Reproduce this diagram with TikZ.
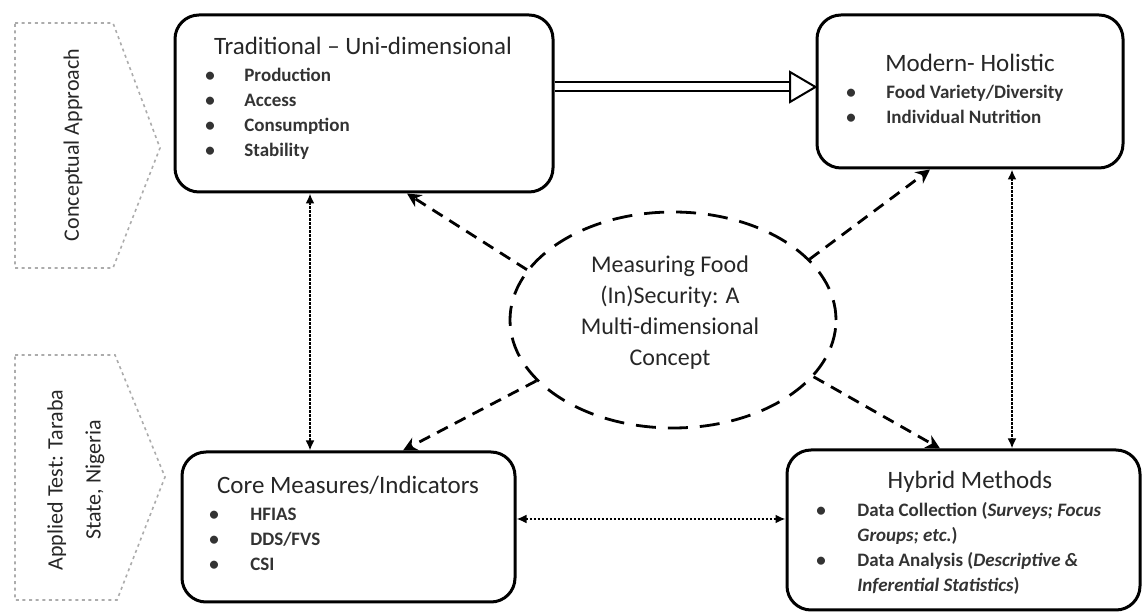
\documentclass[tikz,border=0pt]{standalone}
\usepackage{fontspec}
\setmainfont{Carlito}
\usetikzlibrary{shapes.geometric,arrows.meta,calc}
\tikzset{
  box/.style={draw, line width=1.5pt, rounded corners=12pt, inner sep=0pt},
  sidebox/.style={draw=gray!65, line width=0.8pt, dash pattern=on 1.5pt off 1.8pt},
  sidetext/.style={rotate=90, align=center, font=\fontsize{11}{19}\selectfont, text=black!85},
  titletext/.style={anchor=base, font=\fontsize{12.5}{14}\selectfont, text=black!85, inner sep=0pt},
  listtext/.style={anchor=base west, font=\fontsize{9.5}{12.5}\selectfont\bfseries, text=black!80, inner sep=0pt},
  dotarrow/.style={line width=1.1pt, dash pattern=on 1.1pt off 0.9pt, {Latex[length=5pt,width=4.5pt]}-{Latex[length=5pt,width=4.5pt]}},
  dasharrow/.style={line width=1.4pt, dash pattern=on 6pt off 4pt, -{Stealth[length=7pt,width=7pt]}},
}
\newcommand{\blt}{\textbullet}
\begin{document}
\begin{tikzpicture}[x=0.5pt,y=-0.5pt]
\useasboundingbox (0,0) rectangle (1145,613);

% side pentagons
\draw[sidebox] (15,23) -- (113,23) -- (160,148) -- (113,268) -- (15,268) -- cycle;
\node[sidetext] (sideA) at (73,145) {Conceptual Approach};
\draw[sidebox] (15,355) -- (115,355) -- (165,477) -- (117,600) -- (15,600) -- cycle;
\node[sidetext] (sideB) at (76,480) {Applied Test: Taraba\\State, Nigeria};

% boxes
\node[box, minimum width=189pt, minimum height=88.5pt] (trad) at (364,103.5) {};
\node[box, minimum width=153pt, minimum height=76.5pt] (mod) at (970,91.5) {};
\node[box, minimum width=166.5pt, minimum height=75pt] (core) at (348.5,527) {};
\node[box, minimum width=176.5pt, minimum height=80pt] (hyb) at (963.5,530) {};

% ellipse
\node[ellipse, draw, line width=1.4pt, dash pattern=on 10pt off 6pt,
      minimum width=163pt, minimum height=108pt, inner sep=0pt] (ell) at (673,320) {};
\node[align=center, font=\fontsize{12}{15.5}\selectfont, text=black!85] (elltext) at (670,313)
  {Measuring Food\\(In)Security: A\\Multi-dimensional\\Concept};

% texts
\node[titletext] (tradT) at (363,55) {Traditional -- Uni-dimensional};
\node[listtext] (tradL) at (205,82) {\begin{tabular}[t]{@{}p{19.5pt}@{}l@{}}
\blt & Production\\ \blt & Access\\ \blt & Consumption\\ \blt & Stability\end{tabular}};

\node[titletext] (modT) at (970,72) {Modern- Holistic};
\node[listtext] (modL) at (846,99) {\begin{tabular}[t]{@{}p{20pt}@{}l@{}}
\blt & Food Variety/Diversity\\ \blt & Individual Nutrition\end{tabular}};

\node[titletext] (coreT) at (348,494) {Core Measures/Indicators};
\node[listtext] (coreL) at (209,521) {\begin{tabular}[t]{@{}p{20.5pt}@{}l@{}}
\blt & HFIAS\\ \blt & DDS/FVS\\ \blt & CSI\end{tabular}};

\node[titletext] (hybT) at (970,489) {Hybrid Methods};
\node[listtext] (hybL) at (816,517) {\begin{tabular}[t]{@{}p{20.5pt}@{}l@{}}
\blt & Data Collection (\textit{Surveys; Focus}\\ & \textit{Groups; etc.})\\
\blt & Data Analysis (\textit{Descriptive \&}\\ & \textit{Inferential Statistics})\end{tabular}};

% connector helper coordinates
\coordinate (xl) at (310,0);
\coordinate (xr) at (1012,0);
\coordinate (yh) at (0,519);
\coordinate (ya) at (0,87);
\coordinate (t1) at (407,0);
\coordinate (t2) at (930,0);
\coordinate (t3) at (403,0);
\coordinate (t4) at (940,0);
\coordinate (hb) at (790,0);

% dotted double arrows
\draw[dotarrow] (trad.south -| xl) -- (core.north -| xl);
\draw[dotarrow] (mod.south -| xr) -- (hyb.north -| xr);
\draw[dotarrow] (core.east |- yh) -- (hyb.west |- yh);

% dashed arrows from ellipse
\draw[dasharrow] (ell.161) -- (trad.south -| t1);
\draw[dasharrow] (ell.24) -- (mod.south -| t2);
\draw[dasharrow] (ell.204) -- (core.north -| t3);
\draw[dasharrow] (ell.338) -- (hyb.north -| t4);

% double hollow arrow
\draw[double, double distance=3.5pt, line width=1pt] (trad.east |- ya) -- (hb |- ya);
\draw[line width=1pt, fill=white] (hb |- ya) ++(0,-15) -- (mod.west |- ya) -- ($(hb |- ya)+(0,15)$) -- cycle;
\end{tikzpicture}
\end{document}
